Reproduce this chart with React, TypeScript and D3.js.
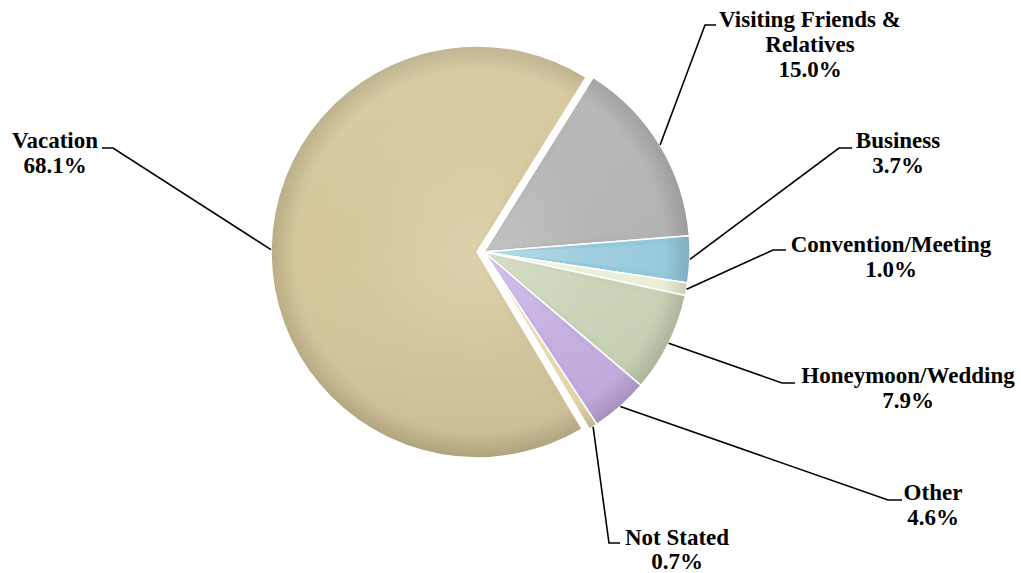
import React from "react";
import * as d3 from "d3";

const categories = [
  "Visiting Friends &\nRelatives",
  "Business",
  "Convention/Meeting",
  "Honeymoon/Wedding",
  "Other",
  "Not Stated",
  "Vacation",
];
const values = [15.0, 3.7, 1.0, 7.9, 4.6, 0.7, 68.1];

const baseColors = ["#b2b2b2", "#93c7d9", "#eaeed4", "#c7d2b4", "#c3ade1", "#e6d9ac", "#d4c69a"];
const lightColors = ["#c2c2c2", "#cbe8f1", "#fafbec", "#dbe3cb", "#d5c5ee", "#f1e9cd", "#ddd1aa"];

// label layout: text centre x, first baseline, leader elbow and end
const labelX = [810, 898, 891, 908, 933, 677, 55];
const labelY = [27, 148, 252, 383, 500, 545, 148];
const elbowX = [705, 839, 773, 782, 888, 609, 113];
const elbowY = [25, 148, 250, 383, 500, 543, 148];
const endX = [716, 852, 786, 795, 902, 620, 102];

const W = 1021;
const H = 573;
const cx = 484;
const cy = 252;
const R = 206;
const explodeIndex = 6;
const explodeDist = 7;

export default function App() {
  const pie = d3
    .pie<number>()
    .sort(null)
    .value((d) => d)
    .startAngle((32 * Math.PI) / 180)
    .endAngle((32 * Math.PI) / 180 + 2 * Math.PI);
  const arcs = pie(values);
  const arcGen = d3.arc<d3.PieArcDatum<number>>().innerRadius(0).outerRadius(R);

  const offsets = arcs.map((a, i) => {
    const mid = (a.startAngle + a.endAngle) / 2;
    const d = i === explodeIndex ? explodeDist : 0;
    return [Math.sin(mid) * d, -Math.cos(mid) * d];
  });

  const insetArc = (a: d3.PieArcDatum<number>) => {
    const w = a.endAngle - a.startAngle;
    const delta = Math.min(0.035, w * 0.2);
    const g = d3.arc<any>().innerRadius(0).outerRadius(R - 16);
    return g({ startAngle: a.startAngle + delta, endAngle: a.endAngle - delta });
  };

  const fmt = d3.format(".1f");

  return (
    <svg
      width={W}
      height={H}
      style={{ position: "absolute", left: 0, top: 0, background: "#fff" }}
      fontFamily="'Liberation Serif', 'Times New Roman', serif"
    >
      <defs>
        <radialGradient id="rim" gradientUnits="userSpaceOnUse" cx={0} cy={0} r={R}>
          <stop offset="0%" stopColor="#ffffff" stopOpacity={0.12} />
          <stop offset="55%" stopColor="#ffffff" stopOpacity={0} />
          <stop offset="88%" stopColor="#000000" stopOpacity={0} />
          <stop offset="100%" stopColor="#000000" stopOpacity={0.13} />
        </radialGradient>
        <linearGradient id="vert" gradientUnits="userSpaceOnUse" x1={0} y1={-R} x2={0} y2={R}>
          <stop offset="0%" stopColor="#ffffff" stopOpacity={0.1} />
          <stop offset="45%" stopColor="#ffffff" stopOpacity={0} />
          <stop offset="100%" stopColor="#000000" stopOpacity={0.06} />
        </linearGradient>
        {arcs.map((a, i) => (
          <radialGradient
            key={"h" + i}
            id={`h${i}`}
            gradientUnits="userSpaceOnUse"
            cx={0}
            cy={0}
            r={R}
          >
            <stop offset="0%" stopColor={lightColors[i]} />
            <stop offset="100%" stopColor={baseColors[i]} />
          </radialGradient>
        ))}
      </defs>
      {arcs.map((a, i) => {
        const [ox, oy] = offsets[i];
        const mid = (a.startAngle + a.endAngle) / 2;
        const shift = 3;
        const d = arcGen(a) || "";
        return (
          <g key={i} transform={`translate(${cx + ox},${cy + oy})`}>
            <path d={d} fill={baseColors[i]} />
            <path
              d={insetArc(a) || ""}
              transform={`translate(${Math.sin(mid) * shift},${-Math.cos(mid) * shift})`}
              fill={`url(#h${i})`}
              opacity={0.45}
            />
            <path d={d} fill="url(#rim)" />
            <path d={d} fill="url(#vert)" stroke="#ffffff" strokeWidth={1.5} />
          </g>
        );
      })}
      {arcs.map((a, i) => {
        const [ox, oy] = offsets[i];
        const mid = (a.startAngle + a.endAngle) / 2;
        const ax = cx + ox + Math.sin(mid) * R;
        const ay = cy + oy - Math.cos(mid) * R;
        const lines = categories[i].split("\n").concat([fmt(values[i]) + "%"]);
        return (
          <g key={"l" + i}>
            <path
              d={`M${ax},${ay}L${elbowX[i]},${elbowY[i]}L${endX[i]},${elbowY[i]}`}
              fill="none"
              stroke="#000"
              strokeWidth={1.6}
            />
            {lines.map((t, j) => (
              <text
                key={j}
                x={labelX[i]}
                y={labelY[i] + j * 25 - (i === 5 && j === 1 ? 1 : 0)}
                textAnchor="middle"
                fontWeight="bold"
                fontSize={23}
                fill="#000"
              >
                {t}
              </text>
            ))}
          </g>
        );
      })}
    </svg>
  );
}
